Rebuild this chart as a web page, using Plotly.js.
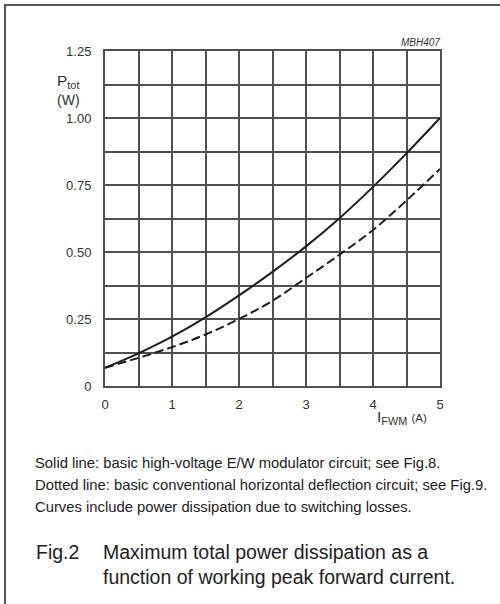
<!DOCTYPE html>
<html>
<head>
<meta charset="utf-8">
<script src="https://cdn.plot.ly/plotly-3.0.1.min.js"></script>
<style>
html,body{margin:0;padding:0;background:#fff;}
#chart{width:500px;height:604px;}
</style>
</head>
<body>
<div id="chart"></div>
<script>
// ---- data ----
const currentA = [0, 0.5, 1, 1.5, 2, 2.5, 3, 3.5, 4, 4.5, 5];
const solidEW = [0.068, 0.122, 0.184, 0.256, 0.338, 0.426, 0.521, 0.626, 0.743, 0.868, 1.0];
const dashedHD = [0.068, 0.105, 0.145, 0.192, 0.25, 0.318, 0.403, 0.49, 0.582, 0.692, 0.81];
const xTickVals = [0, 0.5, 1, 1.5, 2, 2.5, 3, 3.5, 4, 4.5, 5];
const xTickText = ["0", "", "1", "", "2", "", "3", "", "4", "", "5"];
const yTickVals = [0, 0.125, 0.25, 0.375, 0.5, 0.625, 0.75, 0.875, 1.0, 1.125, 1.25];
const yTickText = ["0", "", "0.25", "", "0.50", "", "0.75", "", "1.00", "", "1.25"];
const noteLines = [
  "Solid line: basic high-voltage E/W modulator circuit; see Fig.8.",
  "Dotted line: basic conventional horizontal deflection circuit; see Fig.9.",
  "Curves include power dissipation due to switching losses."
];
const figLabel = "Fig.2";
const captionLines = ["Maximum total power dissipation as a", "function of working peak forward current."];
const figCode = "MBH407";

// ---- layout helpers (pixel -> paper) ----
const L = 105, R = 440, T = 51, B = 386;
const W = R - L, H = B - T;
const px = x => (x - L) / W;
const py = y => (B - y) / H;

const gridColor = "#505050";
const font = "Liberation Sans, Arial, Helvetica, sans-serif";

const traces = [
  {x: currentA, y: solidEW, mode: "lines", line: {color: "#1e1e1e", width: 2, shape: "spline", smoothing: 1}, hoverinfo: "skip"},
  {x: currentA, y: dashedHD, mode: "lines", line: {color: "#1e1e1e", width: 2, shape: "spline", smoothing: 1, dash: "9px,4px"}, hoverinfo: "skip"}
];

const annotations = [
  {text: "P<sub>tot</sub>", x: px(68), y: py(82), xref: "paper", yref: "paper", showarrow: false, xanchor: "center", yanchor: "middle", font: {family: font, size: 15.5, color: "#333"}},
  {text: "(W)", x: px(68), y: py(100), xref: "paper", yref: "paper", showarrow: false, xanchor: "center", yanchor: "middle", font: {family: font, size: 14, color: "#333"}},
  {text: "I<sub>FWM</sub> <span style='font-size:11.5px'>(A)</span>", x: px(375), y: py(417), xref: "paper", yref: "paper", showarrow: false, xanchor: "left", yanchor: "middle", font: {family: font, size: 15.5, color: "#333"}},
  {text: "<i>" + figCode + "</i>", x: px(442), y: py(42), xref: "paper", yref: "paper", showarrow: false, xanchor: "right", yanchor: "middle", font: {family: font, size: 10, color: "#333"}},
  {text: figLabel, x: px(34), y: py(552), xref: "paper", yref: "paper", showarrow: false, xanchor: "left", yanchor: "middle", font: {family: font, size: 19.5, color: "#222"}}
];
noteLines.forEach((t, i) => annotations.push({
  text: t, x: px(33), y: py(463 + i * 22), xref: "paper", yref: "paper", showarrow: false, xanchor: "left", yanchor: "middle",
  font: {family: font, size: 14.8, color: "#222"}
}));
captionLines.forEach((t, i) => annotations.push({
  text: t, x: px(101), y: py(552 + i * 25), xref: "paper", yref: "paper", showarrow: false, xanchor: "left", yanchor: "middle",
  font: {family: font, size: 19.5, color: "#222"}
}));

const shapes = [
  {type: "line", xref: "paper", yref: "paper", x0: px(5), x1: px(5), y0: py(4), y1: py(604), line: {color: "#555", width: 2}},
  {type: "line", xref: "paper", yref: "paper", x0: px(4), x1: px(500), y0: py(5), y1: py(5), line: {color: "#555", width: 2}}
];

const layout = {
  width: 500, height: 604,
  margin: {l: L, r: 500 - R, t: T, b: 604 - B, pad: 0},
  paper_bgcolor: "#ffffff", plot_bgcolor: "#ffffff",
  showlegend: false,
  font: {family: font, size: 12, color: "#333"},
  xaxis: {
    range: [0, 5], tickvals: xTickVals, ticktext: xTickText, showgrid: true, gridcolor: gridColor, gridwidth: 2,
    zeroline: false, showline: true, linecolor: gridColor, linewidth: 2, mirror: true, ticks: "", ticklabelstandoff: 5,
    tickfont: {family: font, size: 13, color: "#333"}, fixedrange: true
  },
  yaxis: {
    range: [0, 1.25], tickvals: yTickVals, ticktext: yTickText, showgrid: true, gridcolor: gridColor, gridwidth: 2,
    zeroline: false, showline: true, linecolor: gridColor, linewidth: 2, mirror: true, ticks: "", ticklabelstandoff: 9,
    tickfont: {family: font, size: 13, color: "#333"}, fixedrange: true
  },
  annotations: annotations,
  shapes: shapes
};

Plotly.newPlot("chart", traces, layout, {displayModeBar: false, staticPlot: true});
</script>
</body>
</html>
